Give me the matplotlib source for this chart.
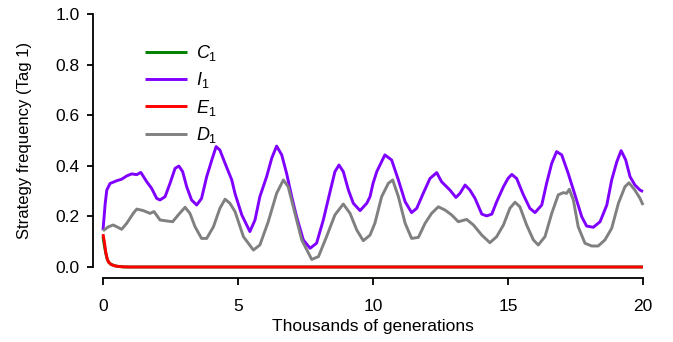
import matplotlib
matplotlib.use("Agg")
import matplotlib.pyplot as plt

plt.rcParams['font.family'] = ['Liberation Sans', 'DejaVu Sans']
plt.rcParams['mathtext.fontset'] = 'custom'
plt.rcParams['mathtext.it'] = 'Liberation Sans:italic'
plt.rcParams['mathtext.rm'] = 'Liberation Sans'

# Strategy frequencies for tag 1 over time (thousands of generations)
c1_x = [0.0, 0.05, 0.1, 0.15, 0.2, 0.3, 0.5, 0.8, 20.0]
c1_y = [0.12, 0.085, 0.055, 0.033, 0.02, 0.01, 0.003, 0.0, 0.0]

i1_x = [0.0, 0.08, 0.14, 0.26, 0.51, 0.69, 0.88, 1.06, 1.25, 1.4, 1.62, 1.8,
        1.99, 2.11, 2.3, 2.48, 2.67, 2.81, 2.95, 3.1, 3.28, 3.47, 3.65, 3.84,
        4.03, 4.19, 4.33, 4.52, 4.77, 4.89, 5.14, 5.44, 5.63, 5.81, 6.06,
        6.25, 6.43, 6.62, 6.8, 6.99, 7.17, 7.42, 7.67, 7.91, 8.16, 8.41,
        8.59, 8.74, 8.9, 9.09, 9.27, 9.52, 9.77, 9.89, 10.0, 10.14, 10.44,
        10.69, 10.94, 11.19, 11.43, 11.62, 11.86, 12.11, 12.36, 12.54, 12.85,
        13.07, 13.22, 13.41, 13.59, 13.78, 14.03, 14.21, 14.4, 14.58, 14.83,
        15.0, 15.14, 15.32, 15.57, 15.81, 16.0, 16.25, 16.43, 16.62, 16.8,
        16.99, 17.23, 17.48, 17.73, 17.91, 18.16, 18.41, 18.66, 18.84, 19.03,
        19.19, 19.36, 19.52, 19.7, 19.89, 20.0]
i1_y = [0.145, 0.25, 0.304, 0.33, 0.341, 0.347, 0.36, 0.368, 0.365, 0.374,
        0.337, 0.311, 0.271, 0.265, 0.278, 0.33, 0.39, 0.399, 0.377, 0.317,
        0.265, 0.245, 0.271, 0.357, 0.423, 0.476, 0.462, 0.41, 0.344, 0.29,
        0.206, 0.14, 0.186, 0.278, 0.357, 0.43, 0.478, 0.443, 0.37, 0.278,
        0.199, 0.107, 0.074, 0.094, 0.186, 0.298, 0.377, 0.403, 0.377, 0.304,
        0.252, 0.223, 0.252, 0.278, 0.33, 0.377, 0.443, 0.423, 0.344, 0.258,
        0.215, 0.232, 0.291, 0.35, 0.373, 0.337, 0.304, 0.275, 0.291, 0.324,
        0.304, 0.271, 0.209, 0.202, 0.209, 0.258, 0.317, 0.35, 0.366, 0.35,
        0.285, 0.232, 0.215, 0.245, 0.331, 0.41, 0.456, 0.443, 0.37, 0.285,
        0.199, 0.162, 0.157, 0.179, 0.245, 0.344, 0.416, 0.46, 0.423, 0.357,
        0.324, 0.304, 0.298]

e1_x = [0.0, 0.05, 0.1, 0.15, 0.2, 0.3, 0.45, 0.7, 1.0, 20.0]
e1_y = [0.13, 0.1, 0.06, 0.035, 0.02, 0.01, 0.004, 0.001, 0.0, 0.0]

d1_x = [0.0, 0.2, 0.38, 0.51, 0.69, 0.88, 1.12, 1.25, 1.49, 1.74, 1.89, 2.11,
        2.36, 2.58, 2.79, 3.04, 3.22, 3.41, 3.65, 3.84, 4.09, 4.33, 4.52, 4.7,
        4.89, 5.2, 5.57, 5.81, 6.12, 6.43, 6.68, 6.86, 7.11, 7.36, 7.73, 7.98,
        8.28, 8.59, 8.9, 9.15, 9.4, 9.64, 9.89, 10.07, 10.32, 10.57, 10.73,
        10.94, 11.19, 11.43, 11.68, 11.93, 12.17, 12.42, 12.67, 12.91, 13.16,
        13.47, 13.72, 14.03, 14.33, 14.58, 14.83, 15.07, 15.26, 15.44, 15.69,
        15.94, 16.12, 16.37, 16.62, 16.86, 17.05, 17.17, 17.27, 17.42, 17.6,
        17.85, 18.1, 18.34, 18.59, 18.84, 19.09, 19.33, 19.48, 19.7, 19.89,
        20.0]
d1_y = [0.143, 0.159, 0.166, 0.159, 0.149, 0.173, 0.212, 0.229, 0.223, 0.212,
        0.219, 0.186, 0.182, 0.179, 0.206, 0.236, 0.212, 0.159, 0.113, 0.113,
        0.159, 0.232, 0.268, 0.252, 0.219, 0.12, 0.067, 0.087, 0.179, 0.291,
        0.344, 0.317, 0.212, 0.107, 0.03, 0.041, 0.12, 0.206, 0.249, 0.212,
        0.146, 0.104, 0.126, 0.173, 0.278, 0.331, 0.344, 0.278, 0.173, 0.113,
        0.117, 0.173, 0.212, 0.238, 0.225, 0.206, 0.179, 0.188, 0.166, 0.126,
        0.096, 0.12, 0.166, 0.232, 0.256, 0.238, 0.166, 0.107, 0.087, 0.12,
        0.212, 0.285, 0.294, 0.291, 0.307, 0.265, 0.159, 0.094, 0.083, 0.083,
        0.107, 0.153, 0.252, 0.317, 0.333, 0.304, 0.271, 0.245]

labels = [r'$C_1$', r'$I_1$', r'$E_1$', r'$D_1$']
colors = ['#008000', '#8000FF', '#FF0000', '#808080']

W, H = 673, 342
fig = plt.figure(figsize=(W / 100, H / 100), dpi=100)
ax = fig.add_axes([103 / W, (H - 267) / H, 540 / W, 253 / H])

series = [(c1_x, c1_y), (i1_x, i1_y), (e1_x, e1_y), (d1_x, d1_y)]
for (xs, ys), lab, col in zip(series, labels, colors):
    ax.plot(xs, ys, color=col, lw=2.1, label=lab, clip_on=False,
            solid_joinstyle='round', solid_capstyle='butt')

ax.set_xlim(0, 20)
ax.set_ylim(0, 1)
ax.set_xticks([0, 5, 10, 15, 20])
ax.set_yticks([0.0, 0.2, 0.4, 0.6, 0.8, 1.0])
ax.set_yticklabels(['0.0', '0.2', '0.4', '0.6', '0.8', '1.0'])

for s in ['top', 'right']:
    ax.spines[s].set_visible(False)
ax.spines['left'].set_position(('outward', 7.5))
ax.spines['bottom'].set_position(('outward', 8))
for s in ['left', 'bottom']:
    ax.spines[s].set_linewidth(1.3)
ax.tick_params(axis='y', direction='out', length=4.5, width=1.3,
               labelsize=12.5, pad=5)
ax.tick_params(axis='x', direction='out', length=5, width=1.3,
               labelsize=12.5, pad=10)

ax.set_xlabel('Thousands of generations', fontsize=12.5, labelpad=4)
ax.set_ylabel('Strategy frequency (Tag 1)', fontsize=12, labelpad=17)

leg = ax.legend(loc='upper left', bbox_to_anchor=(35 / 540, 1 - 22 / 253),
                frameon=False, fontsize=13, handlelength=2.3,
                handletextpad=0.5, labelspacing=0.4, borderaxespad=0)

fig.savefig('out.png', dpi=100)
